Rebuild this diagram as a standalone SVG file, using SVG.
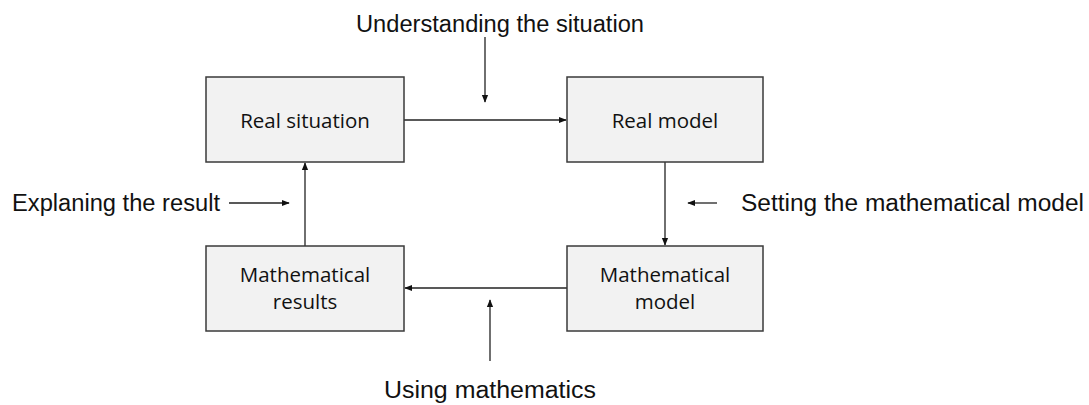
<svg xmlns="http://www.w3.org/2000/svg" width="1089" height="405" viewBox="0 0 1089 405">
<style>
.box{fill:#f2f2f2;stroke:#3a3a3a;stroke-width:1.5}
.bt{font-family:"Open Sans","Noto Sans",sans-serif;font-size:20.5px;fill:#111;text-anchor:middle}
.lb{font-family:"Liberation Sans",Arial,sans-serif;font-size:23px;fill:#111}
.ln{stroke:#222;stroke-width:1.3;fill:none;marker-end:url(#ah)}
</style>
<defs>
<marker id="ah" viewBox="0 0 10 10" refX="9" refY="5" markerWidth="8" markerHeight="8" markerUnits="userSpaceOnUse" orient="auto">
<path d="M0,1 L10,5 L0,9 z" fill="#111"/>
</marker>
</defs>
<rect width="1089" height="405" fill="#fff"/>
<g id="connectors">
<line class="ln" x1="404" y1="120" x2="566" y2="120"/>
<line class="ln" x1="665" y1="162" x2="665" y2="245"/>
<line class="ln" x1="567" y1="288" x2="405" y2="288"/>
<line class="ln" x1="305" y1="246" x2="305" y2="163"/>
<line class="ln" x1="485" y1="37" x2="485" y2="102"/>
<line class="ln" x1="717" y1="203" x2="688" y2="203"/>
<line class="ln" x1="490" y1="361" x2="490" y2="300"/>
<line class="ln" x1="229" y1="203" x2="289" y2="203"/>
</g>
<g id="real-situation">
<rect class="box" x="206" y="77" width="198" height="85"/>
<text class="bt" x="305" y="128">Real situation</text>
</g>
<g id="real-model">
<rect class="box" x="567" y="77" width="196" height="85"/>
<text class="bt" x="665" y="128">Real model</text>
</g>
<g id="mathematical-model">
<rect class="box" x="567" y="246" width="196" height="85"/>
<text class="bt" x="665" y="282">Mathematical</text>
<text class="bt" x="665" y="309">model</text>
</g>
<g id="mathematical-results">
<rect class="box" x="206" y="246" width="198" height="85"/>
<text class="bt" x="305" y="282">Mathematical</text>
<text class="bt" x="305" y="309">results</text>
</g>
<g id="labels">
<text class="lb" x="356" y="32" textLength="288" lengthAdjust="spacingAndGlyphs">Understanding the situation</text>
<text class="lb" x="12" y="211" textLength="208" lengthAdjust="spacingAndGlyphs">Explaning the result</text>
<text class="lb" x="741" y="211" textLength="343" lengthAdjust="spacingAndGlyphs">Setting the mathematical model</text>
<text class="lb" x="384" y="398" textLength="212" lengthAdjust="spacingAndGlyphs">Using mathematics</text>
</g>
</svg>
